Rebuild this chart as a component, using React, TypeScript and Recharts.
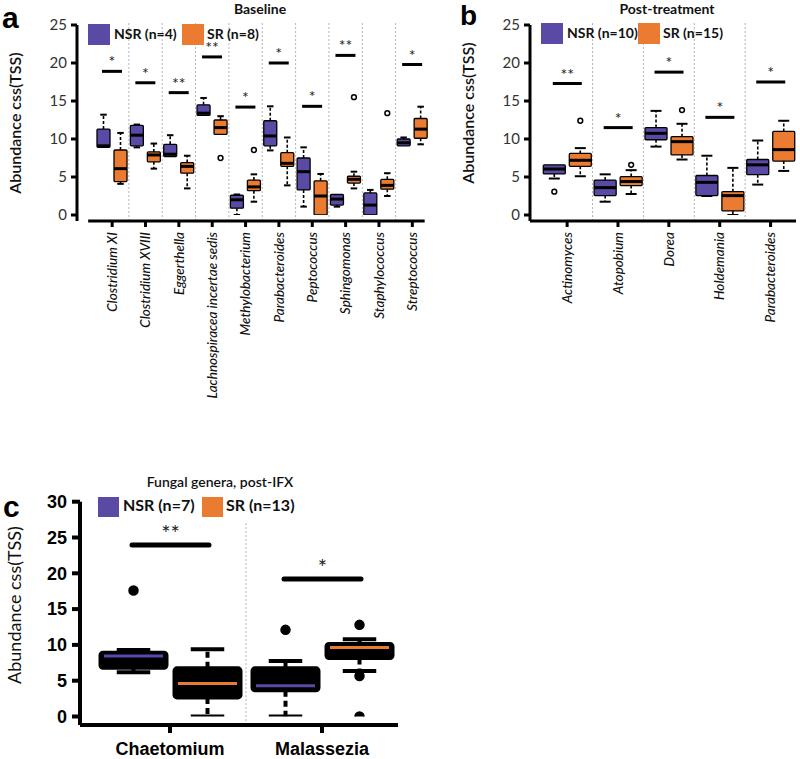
import React from 'react';
import { ComposedChart, Bar, XAxis, YAxis, ReferenceLine } from 'recharts';

const PURPLE = '#5a4aa6';
const ORANGE = '#ec7b32';

// five-number summaries are [min, q1, median, q3, max]

// a: baseline
const baseGenera = [
  'Clostridium XI', 'Clostridium XVIII', 'Eggerthella', 'Lachnospiracea incertae sedis', 'Methylobacterium',
  'Parabacteroides', 'Peptococcus', 'Sphingomonas', 'Staphylococcus', 'Streptococcus',
];
const baseGroups = ['NSR (n=4)', 'SR (n=8)'];
const baseNsrBox = [
  [8.9, 8.9, 9.1, 11.3, 13.2], [8.9, 9.1, 10.5, 11.8, 11.9], [7.7, 7.7, 8.0, 9.3, 10.5], [13.1, 13.1, 13.4, 14.5, 15.4],
  [0, 0.9, 2.0, 2.6, 2.7], [8.5, 9.1, 10.4, 12.4, 14.3], [1.1, 3.3, 5.7, 7.5, 8.9], [1.1, 1.3, 2.1, 2.7, 2.7],
  [0, 0, 1.3, 2.9, 3.3], [9.1, 9.1, 9.5, 10.0, 10.2],
];
const baseNsrOut = [[], [], [], [], [], [], [], [], [], []];
const baseSrBox = [
  [4.1, 4.4, 6.1, 8.55, 10.8], [6.1, 7.0, 7.9, 8.3, 9.4], [3.5, 5.5, 6.4, 6.9, 7.8], [10.6, 10.6, 11.5, 12.5, 13.0],
  [1.75, 3.2, 3.7, 4.6, 5.35], [3.9, 6.4, 6.8, 8.2, 10.2], [0, 0, 2.5, 4.5, 5.4], [3.5, 4.2, 4.7, 5.1, 5.7],
  [2.5, 3.4, 3.9, 4.7, 5.5], [9.3, 10.1, 11.3, 12.7, 14.25],
];
const baseSrOut = [[], [], [], [7.5], [8.55], [], [], [15.5], [13.4], []];
const baseSig = [18.9, 17.4, 16.1, 20.8, 14.2, 20.0, 14.3, 21.0, null, 19.8];
const baseSigMark = ['*', '*', '**', '**', '*', '*', '*', '**', '', '*'];

// b: post-treatment
const postGenera = ['Actinomyces', 'Atopobium', 'Dorea', 'Holdemania', 'Parabacteroides'];
const postGroups = ['NSR (n=10)', 'SR (n=15)'];
const postNsrBox = [
  [4.8, 5.4, 6.05, 6.6, 6.6], [1.75, 2.55, 3.6, 4.6, 5.35], [9.0, 9.9, 10.75, 11.5, 13.7],
  [2.5, 2.55, 4.3, 5.2, 7.8], [4.0, 5.3, 6.6, 7.3, 9.8],
];
const postNsrOut = [[3.07], [], [], [], []];
const postSrBox = [
  [5.1, 6.4, 7.2, 8.1, 8.8], [2.76, 3.87, 4.4, 5.05, 5.9], [7.3, 7.9, 9.65, 10.3, 12.0],
  [0, 0.53, 2.55, 3.07, 6.2], [5.8, 7.1, 8.6, 11.0, 12.4],
];
const postSrOut = [[12.4], [6.6], [13.8], [], []];
const postSig = [17.3, 11.5, 18.8, 12.85, 17.5];
const postSigMark = ['**', '*', '*', '*', '*'];

const abTicks = [0, 5, 10, 15, 20, 25];

// c: fungal genera, post-IFX
const fungGenera = ['Chaetomium', 'Malassezia'];
const fungGroups = ['NSR (n=7)', 'SR (n=13)'];
const fungNsrBox = [[6.17, 6.73, 8.45, 8.97, 9.3], [0, 3.6, 4.3, 6.8, 7.75]];
const fungNsrOut = [[17.6], [12.1]];
const fungSrBox = [[0, 2.6, 4.6, 6.8, 9.4], [6.35, 8.1, 9.65, 10.2, 10.8]];
const fungSrOut = [[], [12.8, 5.65, 0]];
const fungSig = [23.95, 19.2];
const fungSigMark = ['**', '*'];
const cTicks = [0, 5, 10, 15, 20, 25, 30];

type Look = {
  boxFill: string | null;
  boxStroke: number;
  radius: number;
  medianW: number;
  medianColored: boolean;
  whiskerW: number;
  dash: string;
  capW: number;
  outR: number;
  outFilled: boolean;
  sigW: number;
  starSize: number;
};

const lookAB: Look = {
  boxFill: null, boxStroke: 1.3, radius: 1, medianW: 3, medianColored: false, whiskerW: 1.6, dash: '3 2',
  capW: 2, outR: 2.4, outFilled: false, sigW: 3, starSize: 16,
};
const lookC: Look = {
  boxFill: '#000', boxStroke: 3, radius: 3, medianW: 3, medianColored: true, whiskerW: 4, dash: '6 4',
  capW: 4, outR: 4.5, outFilled: true, sigW: 5, starSize: 22,
};

const makeRows = (genera: string[], nsrBox: number[][], nsrOut: number[][], srBox: number[][], srOut: number[][],
  sig: (number | null)[], mark: string[]) =>
  genera.map((name, i) => {
    const nAll = [...nsrBox[i], ...nsrOut[i], sig[i] ?? nsrBox[i][4]];
    const sAll = [...srBox[i], ...srOut[i]];
    return {
      name,
      pos: i + 0.5,
      nsr: [Math.min(...nAll), Math.max(...nAll)],
      sr: [Math.min(...sAll), Math.max(...sAll)],
      nsrBox: nsrBox[i], nsrOut: nsrOut[i], srBox: srBox[i], srOut: srOut[i],
      sig: sig[i], mark: mark[i],
    };
  });

const baseRows = makeRows(baseGenera, baseNsrBox, baseNsrOut, baseSrBox, baseSrOut, baseSig, baseSigMark);
const postRows = makeRows(postGenera, postNsrBox, postNsrOut, postSrBox, postSrOut, postSig, postSigMark);
const fungRows = makeRows(fungGenera, fungNsrBox, fungNsrOut, fungSrBox, fungSrOut, fungSig, fungSigMark);

// the bar's own range [lo, hi] gives the pixel scale for the rest of the box
const boxShape = (group: 'nsr' | 'sr', color: string, look: Look, gap: number) => (props: any) => {
  const { x, y, width, height, payload } = props;
  const [lo, hi] = payload[group];
  const py = (v: number) => y + ((hi - v) / (hi - lo)) * height;
  const [mn, q1, md, q3, mx] = payload[group + 'Box'];
  const outs: number[] = payload[group + 'Out'];
  const cx = x + width / 2;
  const cap = width / 2;
  const mid = cx + (width + gap) / 2;
  return (
    <g>
      {mx > q3 && (
        <g>
          <line x1={cx} x2={cx} y1={py(q3)} y2={py(mx)} stroke="#000" strokeWidth={look.whiskerW} strokeDasharray={look.dash} />
          <line x1={cx - cap / 2} x2={cx + cap / 2} y1={py(mx)} y2={py(mx)} stroke="#000" strokeWidth={look.capW} />
        </g>
      )}
      {mn < q1 && (
        <g>
          <line x1={cx} x2={cx} y1={py(q1)} y2={py(mn)} stroke="#000" strokeWidth={look.whiskerW} strokeDasharray={look.dash} />
          <line x1={cx - cap / 2} x2={cx + cap / 2} y1={py(mn)} y2={py(mn)} stroke="#000" strokeWidth={look.capW} />
        </g>
      )}
      <rect x={x} y={py(q3)} width={width} height={py(q1) - py(q3)} rx={look.radius}
        fill={look.boxFill ?? color} stroke="#000" strokeWidth={look.boxStroke} />
      {look.medianColored ? (
        <line x1={x + 4} x2={x + width - 4} y1={py(md)} y2={py(md)} stroke={color} strokeWidth={look.medianW} />
      ) : (
        <line x1={x} x2={x + width} y1={py(md)} y2={py(md)} stroke="#000" strokeWidth={look.medianW} />
      )}
      {outs.map((o, k) => (
        <circle key={k} cx={cx} cy={py(o)} r={look.outR} fill={look.outFilled ? '#000' : '#fff'} stroke="#000" strokeWidth={1.5} />
      ))}
      {group === 'nsr' && payload.sig != null && (
        <g>
          <line x1={cx - 1.5} x2={cx + width + gap + 1.5} y1={py(payload.sig)} y2={py(payload.sig)} stroke="#000"
            strokeWidth={look.sigW} strokeLinecap={look.outFilled ? 'round' : 'butt'} />
          <text x={mid} y={py(payload.sig) - 4} textAnchor="middle" fontSize={look.starSize} fontFamily="Lato"
            fill="#222" stroke="none">
            {payload.mark}
          </text>
        </g>
      )}
    </g>
  );
};

const RotTick = (props: any) => {
  const { x, y, payload } = props;
  return (
    <text x={x} y={y} transform={`rotate(-90, ${x}, ${y})`} textAnchor="end" dy="0.35em" fontStyle="italic"
      fontSize={13.5} fontWeight={500} fontFamily="Lato" fill="#111">
      {payload.value}
    </text>
  );
};

const FlatTick = (props: any) => {
  const { x, y, payload } = props;
  return (
    <text x={x} y={y} dy="0.71em" textAnchor="middle" fontSize={18} fontWeight="bold" fontFamily="Liberation Sans" fill="#000">
      {payload.value}
    </text>
  );
};

type PanelProps = {
  rows: any[];
  groups: string[];
  look: Look;
  width: number;
  height: number;
  top: number;
  right: number;
  yWidth: number;
  xHeight: number;
  padLeft: number;
  padBottom: number;
  catGap: number;
  barGap: number;
  yMax: number;
  yTicks: number[];
  axisW: number;
  tickSize: number;
  xTickMargin: number;
  xTick: any;
  yTick: any;
  divLo: number;
  divHi: number;
  // where a detached x axis line starts and ends, in band units
  xLine?: [number, number];
};

const Panel = (p: PanelProps) => {
  const n = p.rows.length;
  const dividers = p.rows.slice(1).map((_, i) => i + 1);
  const axisStyle = { stroke: '#000', strokeWidth: p.axisW };
  return (
    <ComposedChart width={p.width} height={p.height} data={p.rows}
      margin={{ top: p.top, right: p.right, bottom: 0, left: 0 }} barCategoryGap={p.catGap} barGap={p.barGap}>
      <XAxis dataKey="name" interval={0} padding={{ left: p.padLeft, right: 0 }} height={p.xHeight}
        axisLine={p.xLine ? false : axisStyle} tickLine={axisStyle} tickSize={p.tickSize} tickMargin={p.xTickMargin} tick={p.xTick} />
      <XAxis xAxisId="num" type="number" dataKey="pos" domain={[0, n]} allowDataOverflow hide padding={{ left: p.padLeft, right: 0 }} />
      <YAxis width={p.yWidth} domain={[0, p.yMax]} ticks={p.yTicks} interval={0} allowDataOverflow
        padding={{ top: 0, bottom: p.padBottom }} axisLine={axisStyle} tickLine={axisStyle}
        tickSize={p.tickSize} tickMargin={p.tickSize === 6 ? 4 : 5} tick={p.yTick} />
      {dividers.map((d) => (
        <ReferenceLine key={d} xAxisId="num" segment={[{ x: d, y: p.divLo }, { x: d, y: p.divHi }]} ifOverflow="visible"
          stroke="#b0b0b0" strokeDasharray="2 2" />
      ))}
      {p.xLine && (
        <ReferenceLine xAxisId="num" segment={[{ x: p.xLine[0], y: p.divLo }, { x: p.xLine[1], y: p.divLo }]}
          ifOverflow="visible" stroke="#000" strokeWidth={p.axisW} />
      )}
      <Bar dataKey="nsr" name={p.groups[0]} fill={PURPLE} shape={boxShape('nsr', PURPLE, p.look, p.barGap)} isAnimationActive={false} />
      <Bar dataKey="sr" name={p.groups[1]} fill={ORANGE} shape={boxShape('sr', ORANGE, p.look, p.barGap)} isAnimationActive={false} />
    </ComposedChart>
  );
};

const smallYTick = { fontSize: 15, fill: '#333', fontFamily: 'Lato' };
const bigYTick = { fontSize: 18, fill: '#000', fontFamily: 'Liberation Sans', fontWeight: 'bold' };

const Legend2 = ({ x, y, groups, size, gapX, font }: { x: number; y: number; groups: string[]; size: number; gapX: number; font: number }) => (
  <g fontFamily="Lato" fontWeight="bold" fontSize={font} fill="#111">
    <rect x={x} y={y} width={size + 1} height={size} fill={PURPLE} />
    <text x={x + size + 5} y={y + size * 0.72}>{groups[0]}</text>
    <rect x={x + gapX} y={y} width={size + 1} height={size} fill={ORANGE} />
    <text x={x + gapX + size + 4} y={y + size * 0.72}>{groups[1]}</text>
  </g>
);

const Overlay = () => (
  <svg width={800} height={759} style={{ position: 'absolute', left: 0, top: 0, pointerEvents: 'none' }}>
    <g fontFamily="Liberation Sans" fontWeight="bold" fill="#000">
      <text x={2} y={28} fontSize={30}>a</text>
      <text x={460} y={25} fontSize={28}>b</text>
      <text x={3} y={517} fontSize={30}>c</text>
    </g>
    <g fontFamily="Lato" fontWeight="bold" fontSize={14} fill="#111" textAnchor="middle">
      <text x={260} y={14}>Baseline</text>
      <text x={667} y={14}>Post-treatment</text>
    </g>
    <text x={220} y={487} fontFamily="Lato" fontWeight={600} fontSize={14} fill="#111" textAnchor="middle">
      Fungal genera, post-IFX
    </text>
    <g fontFamily="Lato" fill="#111" textAnchor="middle">
      <text x={21} y={123} fontSize={16} fontWeight={600} transform="rotate(-90, 21, 123)">Abundance css(TSS)</text>
      <text x={474} y={113} fontSize={16} fontWeight={600} transform="rotate(-90, 474, 113)">Abundance css(TSS)</text>
      <text x={21} y={605} fontSize={18} transform="rotate(-90, 21, 605)">Abundance css(TSS)</text>
    </g>
    <Legend2 x={88} y={24} groups={baseGroups} size={21} gapX={94} font={14} />
    <Legend2 x={541} y={23} groups={postGroups} size={21} gapX={97} font={14} />
    <Legend2 x={98} y={497} groups={fungGroups} size={20} gapX={104} font={16} />
  </svg>
);

export default function App() {
  return (
    <div style={{ position: 'absolute', left: 0, top: 0, width: 800, height: 759, background: '#fff', overflow: 'hidden' }}>
      <div style={{ position: 'absolute', left: 0, top: 0 }}>
        <Panel rows={baseRows} groups={baseGroups} look={lookAB} width={440} height={415} top={25} right={11}
          yWidth={77} xHeight={194} padLeft={18.5} padBottom={6} catGap={1.5} barGap={4} yMax={25} yTicks={abTicks}
          axisW={3} tickSize={6} xTickMargin={5} xTick={<RotTick />} yTick={smallYTick} divLo={-0.8} divHi={25.4}
          xLine={[-0.22, 9.87]} />
      </div>
      <div style={{ position: 'absolute', left: 460, top: 0 }}>
        <Panel rows={postRows} groups={postGroups} look={lookAB} width={340} height={400} top={25} right={4}
          yWidth={70} xHeight={179} padLeft={11.7} padBottom={6} catGap={1.6} barGap={4} yMax={25} yTicks={abTicks}
          axisW={3} tickSize={6} xTickMargin={5} xTick={<RotTick />} yTick={smallYTick} divLo={-0.8} divHi={25.4} />
      </div>
      <div style={{ position: 'absolute', left: 0, top: 440 }}>
        <Panel rows={fungRows} groups={fungGroups} look={lookC} width={420} height={319} top={61.7} right={22}
          yWidth={80} xHeight={34} padLeft={14} padBottom={8.5} catGap={6} barGap={7} yMax={30} yTicks={cTicks}
          axisW={4} tickSize={8} xTickMargin={9} xTick={<FlatTick />} yTick={bigYTick} divLo={-1.2} divHi={27} />
      </div>
      <Overlay />
    </div>
  );
}
